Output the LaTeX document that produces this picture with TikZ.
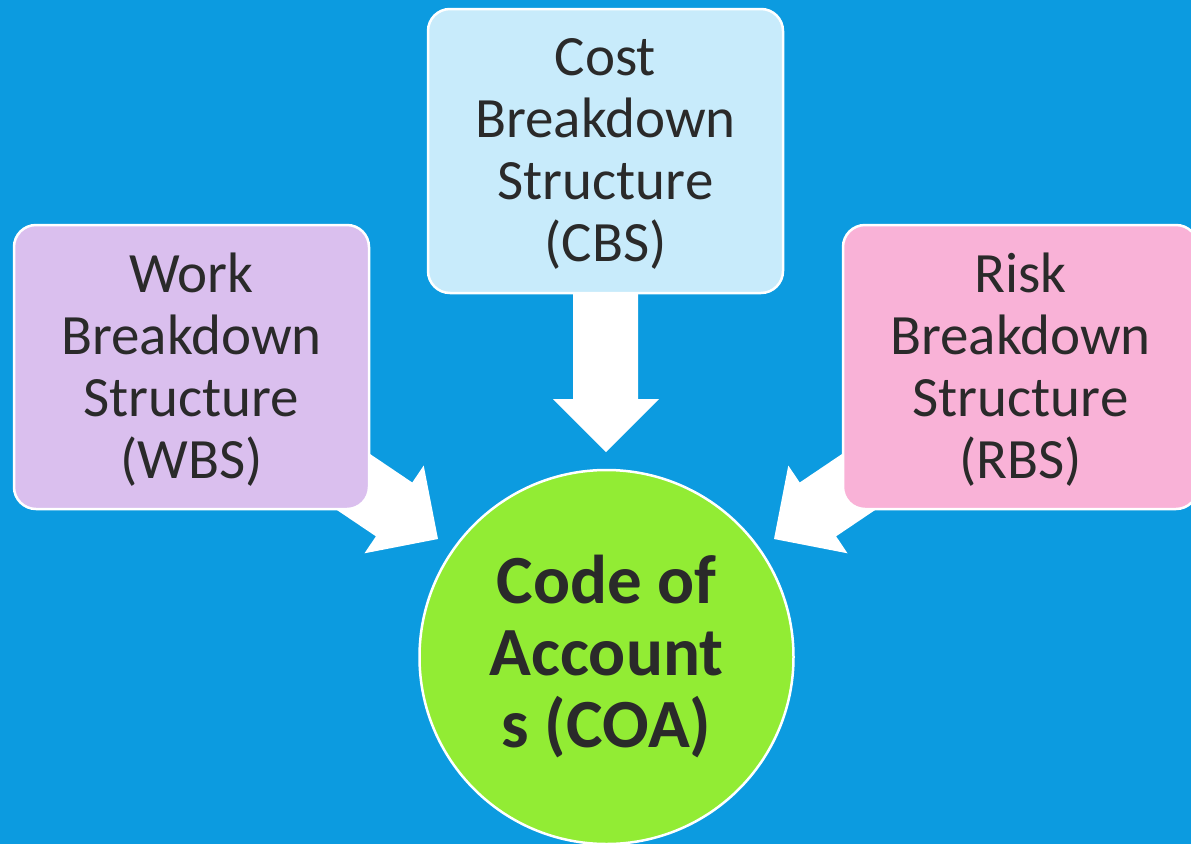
\documentclass[tikz,border=0pt]{standalone}
\usepackage{fontspec}
\setmainfont{Carlito}
\definecolor{bgblue}{RGB}{12,155,224}
\definecolor{wbsfill}{RGB}{218,191,238}
\definecolor{cbsfill}{RGB}{200,235,251}
\definecolor{rbsfill}{RGB}{249,178,215}
\definecolor{coafill}{RGB}{146,236,52}
\definecolor{txt}{RGB}{42,42,42}
\begin{document}
\begin{tikzpicture}[x=1pt,y=-1pt,
  bstruct/.style={draw=white,line width=2.5pt,rounded corners=22pt,
    minimum width=355pt,minimum height=284pt,inner sep=0pt,align=center,
    text=txt,font=\fontsize{57}{62}\selectfont},
  coa/.style={circle,draw=white,line width=2.5pt,fill=coafill,minimum size=374pt,
    inner sep=0pt,align=center,text=txt,font=\fontsize{69}{72}\selectfont\bfseries},
  blockarrow/.style={fill=white}]
\fill[bgblue] (0,0) rectangle (1191,844);
\useasboundingbox (0,0) rectangle (1191,844);
% arrows (behind boxes)
\fill[blockarrow] (573,280) -- (573,399) -- (553,399) -- (606,452) -- (659,399) -- (638,399) -- (638,280) -- cycle;
\fill[blockarrow] (337.7,432.2) -- (412.3,482.5) -- (423.7,465.5) -- (438,539) -- (364.5,553.3) -- (375.9,536.3) -- (301.3,486.0) -- cycle;
\fill[blockarrow] (874.3,432.2) -- (799.7,482.5) -- (788.3,465.5) -- (774,539) -- (847.5,553.3) -- (836.1,536.3) -- (910.7,486.0) -- cycle;
% boxes
\node[bstruct,fill=wbsfill] (wbs) at (191.5,367) {};
\node[text=txt,font=\fontsize{57}{62}\selectfont,align=center,inner sep=0pt] at ([yshift=-2.5pt]wbs.center) {Work\\Breakdown\\Structure\\(WBS)};
\node[bstruct,fill=cbsfill] (cbs) at (605.5,151) {};
\node[text=txt,font=\fontsize{57}{62}\selectfont,align=center,inner sep=0pt] at ([yshift=-2.5pt]cbs.center) {Cost\\Breakdown\\Structure\\(CBS)};
\node[bstruct,fill=rbsfill] (rbs) at (1020.5,367) {};
\node[text=txt,font=\fontsize{57}{62}\selectfont,align=center,inner sep=0pt] at ([yshift=-2.5pt]rbs.center) {Risk\\Breakdown\\Structure\\(RBS)};
\node[coa] (coa) at (606.5,657) {Code of\\Account\\s (COA)};
\end{tikzpicture}
\end{document}
